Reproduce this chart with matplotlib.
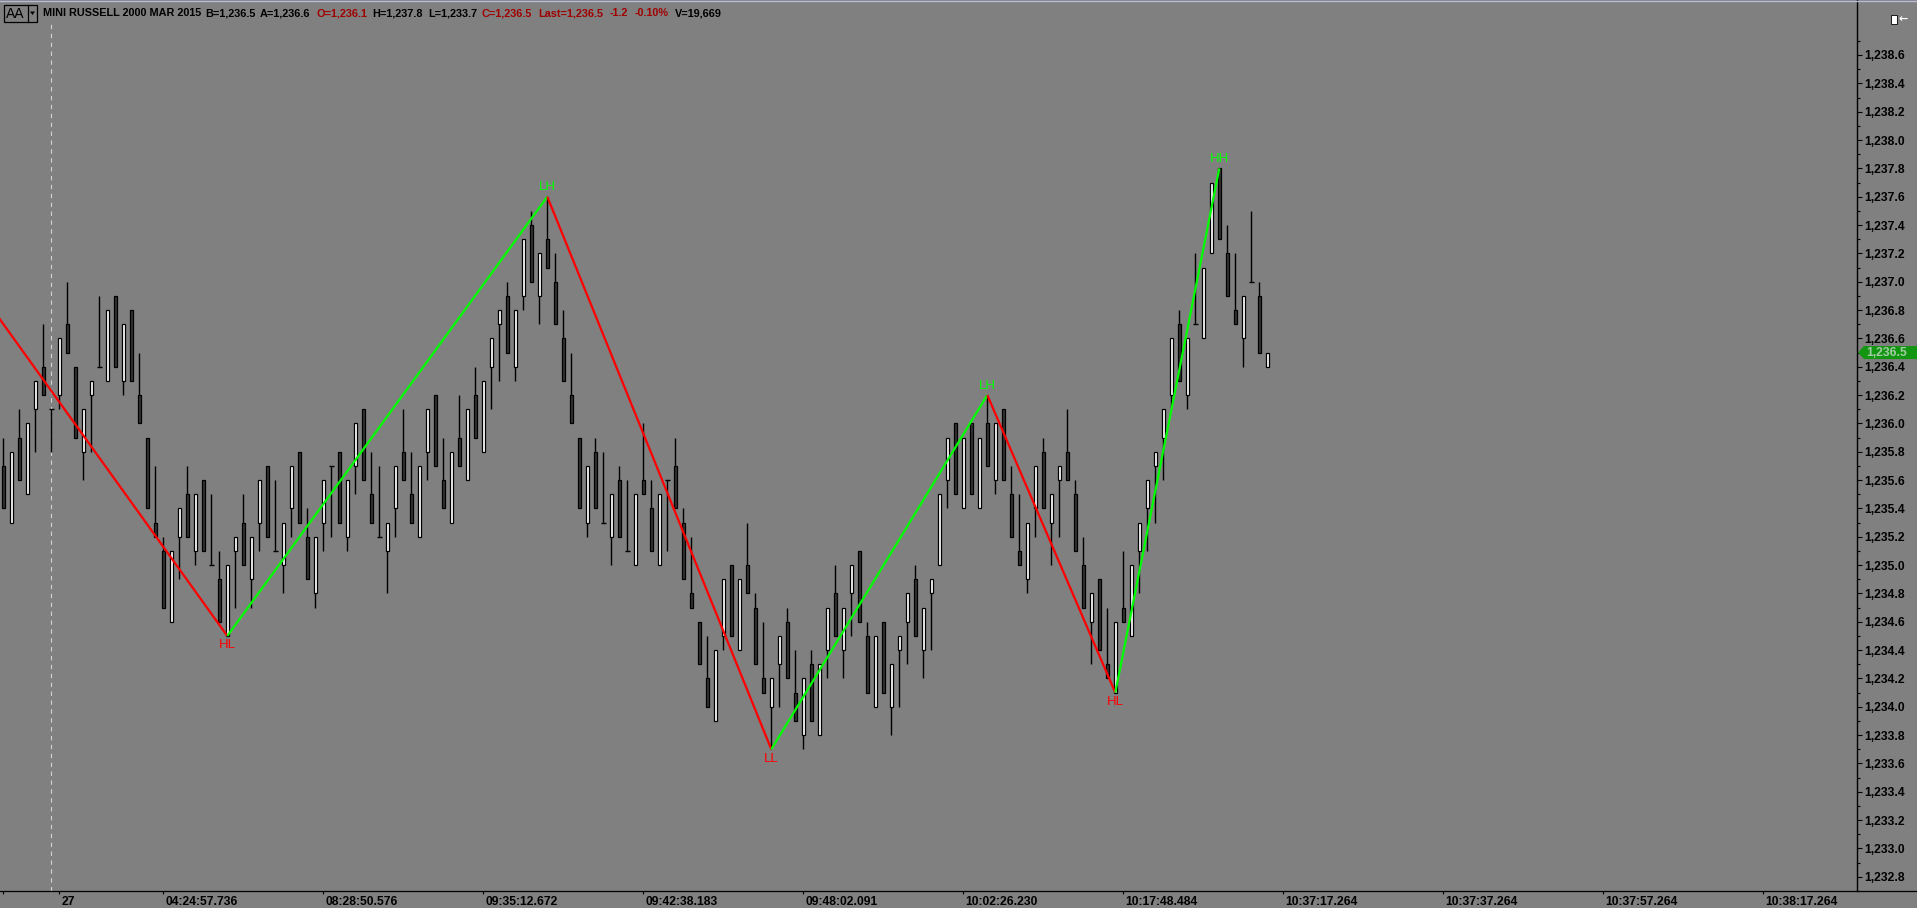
"""
Mini Russell 2000 range-bar chart with zigzag swing labels
"""
import matplotlib
matplotlib.use('Agg')
import matplotlib.pyplot as plt
import matplotlib.transforms as mtransforms
from matplotlib.patches import Rectangle, Polygon
from matplotlib.lines import Line2D
from matplotlib import font_manager
import numpy as np

# ---------------- data ----------------
opens = [
    1235.7, 1235.3, 1235.9, 1235.5, 1236.1, 1236.4, 1236.1, 1236.2, 1236.7, 1236.4,
    1235.8, 1236.2, 1236.4, 1236.3, 1236.9, 1236.3, 1236.8, 1236.2, 1235.9, 1235.3,
    1235.1, 1234.6, 1235.2, 1235.5, 1235.1, 1235.6, 1235.0, 1234.9, 1234.5, 1235.1,
    1235.3, 1234.9, 1235.3, 1235.7, 1235.1, 1235.0, 1235.4, 1235.8, 1235.2, 1234.8,
    1235.3, 1235.7, 1235.8, 1235.2, 1235.7, 1236.1, 1235.5, 1235.2, 1235.1, 1235.4,
    1235.8, 1235.5, 1235.2, 1235.8, 1236.2, 1235.6, 1235.3, 1235.9, 1235.6, 1236.2,
    1235.8, 1236.4, 1236.7, 1236.9, 1236.4, 1236.9, 1237.4, 1236.9, 1237.3, 1237.0,
    1236.6, 1236.2, 1235.9, 1235.3, 1235.8, 1235.3, 1235.2, 1235.6, 1235.1, 1235.0,
    1235.6, 1235.4, 1235.0, 1235.6, 1235.7, 1235.3, 1234.8, 1234.6, 1234.2, 1233.9,
    1234.5, 1235.0, 1234.4, 1235.0, 1234.7, 1234.2, 1234.0, 1234.3, 1234.6, 1234.1,
    1233.8, 1234.3, 1233.8, 1234.4, 1234.8, 1234.4, 1234.8, 1235.1, 1234.5, 1234.0,
    1234.6, 1234.0, 1234.4, 1234.6, 1234.9, 1234.4, 1234.8, 1235.0, 1235.6, 1236.0,
    1235.4, 1236.0, 1235.4, 1236.0, 1235.6, 1236.1, 1235.5, 1235.1, 1234.9, 1235.4,
    1235.8, 1235.3, 1235.6, 1235.8, 1235.5, 1235.0, 1234.6, 1234.9, 1234.3, 1234.1,
    1234.7, 1234.5, 1235.1, 1235.4, 1235.7, 1235.9, 1236.2, 1236.7, 1236.2, 1236.7,
    1236.6, 1237.2, 1237.8, 1237.2, 1236.8, 1236.6, 1237.0, 1236.9, 1236.4,
]
highs = [
    1235.9, 1235.8, 1236.1, 1236.0, 1236.3, 1236.7, 1236.1, 1236.6, 1237.0, 1236.4,
    1236.1, 1236.3, 1236.9, 1236.8, 1236.9, 1236.7, 1236.8, 1236.5, 1235.9, 1235.7,
    1235.2, 1235.1, 1235.4, 1235.7, 1235.5, 1235.6, 1235.5, 1235.1, 1235.0, 1235.2,
    1235.5, 1235.2, 1235.6, 1235.7, 1235.6, 1235.3, 1235.7, 1235.8, 1235.4, 1235.2,
    1235.6, 1235.7, 1235.8, 1235.6, 1236.0, 1236.1, 1235.8, 1235.7, 1235.3, 1235.7,
    1236.1, 1235.8, 1235.7, 1236.1, 1236.2, 1235.9, 1235.8, 1236.2, 1236.1, 1236.4,
    1236.3, 1236.6, 1236.8, 1237.0, 1236.8, 1237.3, 1237.5, 1237.2, 1237.6, 1237.2,
    1236.8, 1236.5, 1235.9, 1235.7, 1235.9, 1235.8, 1235.5, 1235.7, 1235.6, 1235.5,
    1236.0, 1235.6, 1235.5, 1235.6, 1235.9, 1235.4, 1235.2, 1234.6, 1234.5, 1234.4,
    1234.9, 1235.0, 1234.9, 1235.3, 1234.8, 1234.6, 1234.2, 1234.5, 1234.7, 1234.4,
    1234.2, 1234.4, 1234.3, 1234.7, 1235.0, 1234.7, 1235.0, 1235.1, 1234.6, 1234.5,
    1234.6, 1234.3, 1234.5, 1234.8, 1235.0, 1234.7, 1234.9, 1235.5, 1235.9, 1236.0,
    1235.9, 1236.0, 1235.9, 1236.2, 1236.0, 1236.1, 1235.7, 1235.5, 1235.3, 1235.7,
    1235.9, 1235.5, 1235.7, 1236.1, 1235.6, 1235.2, 1234.8, 1234.9, 1234.7, 1234.6,
    1235.1, 1235.0, 1235.3, 1235.6, 1235.8, 1236.1, 1236.6, 1236.8, 1236.6, 1237.2,
    1237.1, 1237.7, 1237.8, 1237.4, 1237.2, 1236.9, 1237.5, 1237.0, 1236.5,
]
lows = [
    1235.4, 1235.3, 1235.6, 1235.5, 1235.8, 1236.2, 1235.8, 1236.1, 1236.5, 1235.9,
    1235.6, 1235.8, 1236.4, 1236.3, 1236.4, 1236.2, 1236.3, 1236.0, 1235.4, 1235.2,
    1234.7, 1234.6, 1234.9, 1235.2, 1235.0, 1235.1, 1235.0, 1234.6, 1234.5, 1234.7,
    1235.0, 1234.7, 1235.1, 1235.2, 1235.1, 1234.8, 1235.2, 1235.3, 1234.9, 1234.7,
    1235.1, 1235.2, 1235.3, 1235.1, 1235.5, 1235.6, 1235.3, 1235.2, 1234.8, 1235.2,
    1235.6, 1235.3, 1235.2, 1235.6, 1235.7, 1235.4, 1235.3, 1235.7, 1235.6, 1235.9,
    1235.8, 1236.1, 1236.3, 1236.5, 1236.3, 1236.8, 1237.0, 1236.7, 1237.1, 1236.7,
    1236.3, 1236.0, 1235.4, 1235.2, 1235.4, 1235.3, 1235.0, 1235.2, 1235.1, 1235.0,
    1235.5, 1235.1, 1235.0, 1235.1, 1235.4, 1234.9, 1234.7, 1234.3, 1234.0, 1233.9,
    1234.4, 1234.5, 1234.4, 1234.8, 1234.3, 1234.1, 1233.7, 1234.0, 1234.2, 1233.9,
    1233.7, 1233.9, 1233.8, 1234.2, 1234.5, 1234.2, 1234.5, 1234.6, 1234.1, 1234.0,
    1234.1, 1233.8, 1234.0, 1234.3, 1234.5, 1234.2, 1234.4, 1235.0, 1235.4, 1235.5,
    1235.4, 1235.5, 1235.4, 1235.7, 1235.5, 1235.6, 1235.2, 1235.0, 1234.8, 1235.2,
    1235.4, 1235.0, 1235.2, 1235.6, 1235.1, 1234.7, 1234.3, 1234.4, 1234.2, 1234.1,
    1234.6, 1234.5, 1234.8, 1235.1, 1235.3, 1235.6, 1236.1, 1236.3, 1236.1, 1236.7,
    1236.6, 1237.2, 1237.3, 1236.9, 1236.7, 1236.4, 1237.0, 1236.5, 1236.4,
]
closes = [
    1235.4, 1235.8, 1235.6, 1236.0, 1236.3, 1236.2, 1236.1, 1236.6, 1236.5, 1235.9,
    1236.1, 1236.3, 1236.4, 1236.8, 1236.4, 1236.7, 1236.3, 1236.0, 1235.4, 1235.2,
    1234.7, 1235.1, 1235.4, 1235.2, 1235.5, 1235.1, 1235.0, 1234.6, 1235.0, 1235.2,
    1235.0, 1235.2, 1235.6, 1235.2, 1235.1, 1235.3, 1235.7, 1235.3, 1234.9, 1235.2,
    1235.6, 1235.7, 1235.3, 1235.6, 1236.0, 1235.6, 1235.3, 1235.2, 1235.3, 1235.7,
    1235.6, 1235.3, 1235.7, 1236.1, 1235.7, 1235.4, 1235.8, 1235.7, 1236.1, 1235.9,
    1236.3, 1236.6, 1236.8, 1236.5, 1236.8, 1237.3, 1237.0, 1237.2, 1237.1, 1236.7,
    1236.3, 1236.0, 1235.4, 1235.7, 1235.4, 1235.3, 1235.5, 1235.2, 1235.1, 1235.5,
    1235.5, 1235.1, 1235.5, 1235.6, 1235.4, 1234.9, 1234.7, 1234.3, 1234.0, 1234.4,
    1234.9, 1234.5, 1234.9, 1234.8, 1234.3, 1234.1, 1234.2, 1234.5, 1234.2, 1233.9,
    1234.2, 1233.9, 1234.3, 1234.7, 1234.5, 1234.7, 1235.0, 1234.6, 1234.1, 1234.5,
    1234.1, 1234.3, 1234.5, 1234.8, 1234.5, 1234.7, 1234.9, 1235.5, 1235.9, 1235.5,
    1235.9, 1235.5, 1235.9, 1235.7, 1236.0, 1235.6, 1235.2, 1235.0, 1235.3, 1235.7,
    1235.4, 1235.5, 1235.7, 1235.6, 1235.1, 1234.7, 1234.8, 1234.4, 1234.2, 1234.6,
    1234.6, 1235.0, 1235.3, 1235.6, 1235.8, 1236.1, 1236.6, 1236.3, 1236.6, 1236.7,
    1237.1, 1237.7, 1237.3, 1236.9, 1236.7, 1236.9, 1237.0, 1236.5, 1236.5,
]

# zigzag swing points (bar index, price, label); first point is where the line enters the chart
zz_idx = [-1, 28, 68, 96, 123, 139, 152]
zz_price = [1236.78, 1234.5, 1237.6, 1233.7, 1236.2, 1234.1, 1237.8]
zz_labels = ['', 'HL', 'LH', 'LL', 'LH', 'HL', 'HH']

xtick_idx = [0, 7, 20, 40, 60, 80, 100, 120, 140, 160, 180, 200, 220]
xtick_labels = ['', '27', '04:24:57.736', '08:28:50.576', '09:35:12.672', '09:42:38.183',
                '09:48:02.091', '10:02:26.230', '10:17:48.484', '10:37:17.264',
                '10:37:37.264', '10:37:57.264', '10:38:17.264']
day_break_idx = 6

price_ticks = [round(1232.8 + 0.2 * k, 1) for k in range(30)]
price_minor = [round(1232.7 + 0.2 * k, 1) for k in range(31)]
last_price = 1236.5

header_items = [
    ('MINI RUSSELL 2000 MAR 2015', 43, 'black'),
    ('B=1,236.5', 205, 'black'),
    ('A=1,236.6', 260, 'black'),
    ('O=1,236.1', 316, '#a00000'),
    ('H=1,237.8', 372, 'black'),
    ('L=1,233.7', 428, 'black'),
    ('C=1,236.5', 482, '#a00000'),
    ('Last=1,236.5', 538, '#a00000'),
    ('-1.2', 610, '#a00000'),
    ('-0.10%', 635, '#a00000'),
    ('V=19,669', 675, 'black'),
]

# ---------------- figure ----------------
W, H = 1917, 908
BG = '#808080'
names = {f.name for f in font_manager.fontManager.ttflist}
if 'Liberation Sans Narrow' in names:
    head_font, head_size = 'Liberation Sans Narrow', 9.3
else:
    head_font, head_size = 'Liberation Sans', 7.8

fig = plt.figure(figsize=(W / 100, H / 100), dpi=100)
fig.patch.set_facecolor(BG)

plot_right = 1857
plot_bottom = 891
ax = fig.add_axes([0, (H - plot_bottom) / H, plot_right / W, plot_bottom / H])
ax.set_facecolor(BG)

x = np.arange(len(opens))
o = np.array(opens)
h = np.array(highs)
l = np.array(lows)
c = np.array(closes)

# wicks
ax.vlines(x, l, h, colors='black', linewidth=1.0, zorder=2)

# bodies
up = c > o
dn = c < o
dj = c == o
ax.bar(x[up], (c - o)[up], bottom=o[up], width=0.42, color='white',
       edgecolor='black', linewidth=0.9, zorder=3)
ax.bar(x[dn], (o - c)[dn], bottom=c[dn], width=0.42, color='#333333',
       edgecolor='black', linewidth=0.9, zorder=3)
ax.hlines(o[dj], x[dj] - 0.34, x[dj] + 0.34, colors='black', linewidth=1.0, zorder=3)

# day separator
ax.axvline(day_break_idx, ymin=0, ymax=(plot_bottom - 22) / plot_bottom, color='#d4d4d4',
           linewidth=0.8, linestyle=(0, (4, 4)), zorder=1)

# zigzag
for i in range(len(zz_idx) - 1):
    col = '#00ff00' if zz_price[i + 1] > zz_price[i] else '#ff0000'
    ax.plot([zz_idx[i], zz_idx[i + 1]], [zz_price[i], zz_price[i + 1]],
            color=col, linewidth=1.6, zorder=4, solid_capstyle='butt')

for xi, pi, lab in zip(zz_idx, zz_price, zz_labels):
    if not lab:
        continue
    if lab.endswith('H'):
        ax.annotate(lab, (xi, pi), xytext=(0, 2.5), textcoords='offset points',
                    ha='center', va='bottom', color='#00ff00', fontsize=9.5,
                    family='Liberation Sans', zorder=5)
    else:
        ax.annotate(lab, (xi, pi), xytext=(0, -2.5), textcoords='offset points',
                    ha='center', va='top', color='#ff0000', fontsize=9.5,
                    family='Liberation Sans', zorder=5)

ax.set_xlim(-3.3 / 8, (plot_right - 3.3) / 8)
ax.set_ylim(1238.6 - (plot_bottom - 55) / 141.7, 1238.6 + 55 / 141.7)

# axes look
for s in ['left', 'top', 'bottom']:
    ax.spines[s].set_visible(False)
ax.spines['right'].set_color('black')
ax.spines['right'].set_linewidth(1.0)

ax.yaxis.tick_right()
ax.set_yticks(price_ticks)
ax.set_yticklabels([f'{v:,.1f}' for v in price_ticks])
ax.set_yticks(price_minor, minor=True)
ax.tick_params(axis='y', which='major', direction='out', length=3.5, width=0.8,
               pad=1.5, labelsize=8.7, colors='black')
ax.tick_params(axis='y', which='minor', direction='out', length=1.8, width=0.8, colors='black')
for lab in ax.get_yticklabels():
    lab.set_fontweight('bold')
    lab.set_family('Liberation Sans')

ax.set_xticks(xtick_idx)
ax.set_xticklabels(xtick_labels, ha='left', fontweight='bold', fontsize=8.7,
                   family='Liberation Sans')
ax.tick_params(axis='x', direction='out', length=2.5, width=0.8, pad=1.0, colors='black')
shift = mtransforms.ScaledTranslation(2 / 100, 0, fig.dpi_scale_trans)
for lab in ax.get_xticklabels():
    lab.set_transform(lab.get_transform() + shift)


def fx(px):
    return px / W


def fy(py):
    return 1 - py / H


# bottom time axis line and top border
fig.add_artist(Line2D([0, 1], [fy(plot_bottom)] * 2, transform=fig.transFigure,
                      color='black', linewidth=0.9))
fig.add_artist(Line2D([0, 1], [fy(0.5)] * 2, transform=fig.transFigure,
                      color='#b8b8d8', linewidth=1.0))

# last price marker
trans = mtransforms.blended_transform_factory(fig.transFigure, ax.transData)
hh = 6.5 / 141.7
fig.add_artist(Polygon([(fx(1858), last_price), (fx(1864), last_price + hh), (1, last_price + hh),
                        (1, last_price - hh), (fx(1864), last_price - hh)],
                       closed=True, transform=trans, facecolor='#129612', edgecolor='none'))
fig.text(fx(1866), last_price, f'{last_price:,.1f}', transform=trans, ha='left', va='center',
         color='#a4cca4', fontsize=8.7, fontweight='bold', family='Liberation Sans')

# header: symbol box and quote line
fig.add_artist(Rectangle((fx(4), fy(22)), 33 / W, 17 / H, transform=fig.transFigure,
                         fill=False, edgecolor='black', linewidth=0.9))
fig.add_artist(Line2D([fx(28), fx(28)], [fy(22), fy(5)], transform=fig.transFigure,
                      color='black', linewidth=0.9))
fig.add_artist(Polygon([(fx(30), fy(11.5)), (fx(35), fy(11.5)), (fx(32.5), fy(15))],
                       closed=True, transform=fig.transFigure, facecolor='black'))
fig.text(fx(6), fy(13.5), 'AA', ha='left', va='center', fontsize=10,
         color='black', family='Liberation Sans')
for txt, xp, col in header_items:
    fig.text(fx(xp), fy(13), txt, ha='left', va='center', fontsize=head_size,
             fontweight='bold', color=col, family=head_font)

# small panel icon at top right
fig.add_artist(Rectangle((fx(1891), fy(24)), 6 / W, 9 / H, transform=fig.transFigure,
                         facecolor='white', edgecolor='black', linewidth=0.6))
fig.text(fx(1898), fy(19.5), '\u2190', ha='left', va='center', fontsize=8,
         fontweight='bold', color='white', family='DejaVu Sans')

plt.savefig('out.png', dpi=100, facecolor=BG)
plt.close()
